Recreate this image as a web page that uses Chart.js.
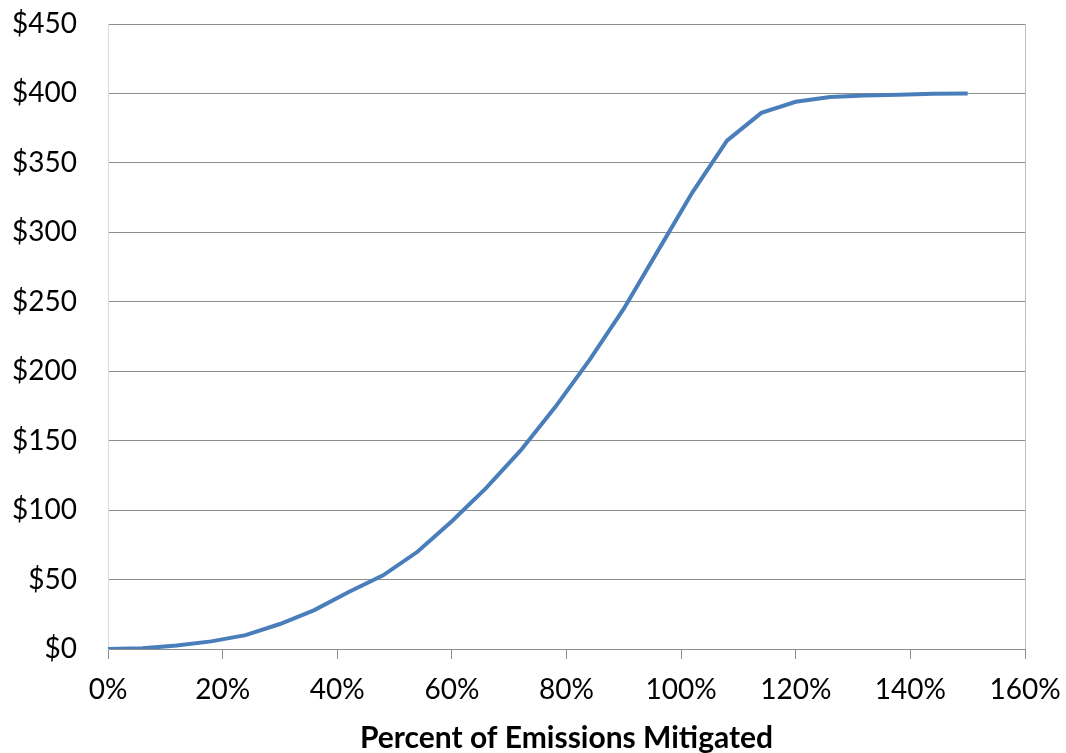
<!DOCTYPE html>
<html>
<head>
<meta charset="utf-8">
<script src="https://cdn.jsdelivr.net/npm/chart.js@4"></script>
<style>
  html, body { margin: 0; padding: 0; background: #fff; }
  #wrap { width: 1066px; height: 753px; }
</style>
</head>
<body>
<div id="wrap"><canvas id="cost-chart" width="1066" height="753"></canvas></div>
<script>
// percent of emissions mitigated
const mitigated = [0, 6, 12, 18, 24, 30, 36, 42, 48, 54, 60, 66, 72, 78, 84, 90, 96, 102, 108, 114, 120, 126, 132, 138, 144, 150];
// dollars
const cost = [0, 0.5, 2.5, 5.5, 10, 18, 28, 41, 53, 70, 92, 116, 143, 174, 208, 245, 287, 329, 366, 386, 394, 397.5, 398.5, 399, 399.8, 400];

const xTicks = [0, 20, 40, 60, 80, 100, 120, 140, 160];
const yTicks = [0, 50, 100, 150, 200, 250, 300, 350, 400, 450];
const xTitle = 'Percent of Emissions Mitigated';

const gridGray = '#8c8c8c';
const fontFamily = 'Lato, "Open Sans", sans-serif';

const points = mitigated.map(function(p, i) {
    return { x: p, y: cost[i] };
});

const ctx = document.getElementById('cost-chart').getContext('2d');

new Chart(ctx, {
    type: 'line',
    data: {
        datasets: [{
            data: points,
            borderColor: '#4a7ebb',
            borderWidth: 4,
            pointRadius: 0,
            tension: 0,
            fill: false
        }]
    },
    options: {
        responsive: false,
        animation: false,
        layout: {
            padding: { left: 0, right: 41, top: 24, bottom: 0 }
        },
        plugins: {
            legend: { display: false },
            tooltip: { enabled: false }
        },
        scales: {
            x: {
                type: 'linear',
                min: 0,
                max: 160,
                afterBuildTicks: function(scale) {
                    scale.ticks = xTicks.map(function(v) { return { value: v }; });
                },
                afterFit: function(scale) {
                    // fixed axis band, let layout padding decide the plot edges
                    scale.height = 104;
                    scale.paddingLeft = 0;
                    scale.paddingRight = 0;
                },
                ticks: {
                    color: '#000',
                    font: { family: fontFamily, size: 28 },
                    padding: 14,
                    maxRotation: 0,
                    callback: function(v) { return v + '%'; }
                },
                grid: {
                    color: function(c) {
                        return c.index === xTicks.length - 1 ? '#bfbfbf' : 'rgba(0,0,0,0)';
                    },
                    tickColor: gridGray,
                    tickLength: 10,
                    lineWidth: 1
                },
                border: { display: true, color: gridGray, width: 1 },
                title: {
                    display: true,
                    text: xTitle,
                    color: '#000',
                    font: { family: fontFamily, size: 30, weight: 'bold' },
                    padding: { top: 0, bottom: -3 }
                }
            },
            y: {
                type: 'linear',
                min: 0,
                max: 450,
                afterBuildTicks: function(scale) {
                    scale.ticks = yTicks.map(function(v) { return { value: v }; });
                },
                afterFit: function(scale) {
                    scale.width = 108;
                    scale.paddingTop = 0;
                    scale.paddingBottom = 0;
                },
                ticks: {
                    color: '#000',
                    font: { family: fontFamily, size: 28 },
                    padding: 31,
                    callback: function(v) { return '$' + v; }
                },
                grid: {
                    color: gridGray,
                    lineWidth: 1,
                    drawTicks: false
                },
                border: { display: true, color: '#d9d9d9', width: 1 }
            }
        }
    }
});
</script>
</body>
</html>
